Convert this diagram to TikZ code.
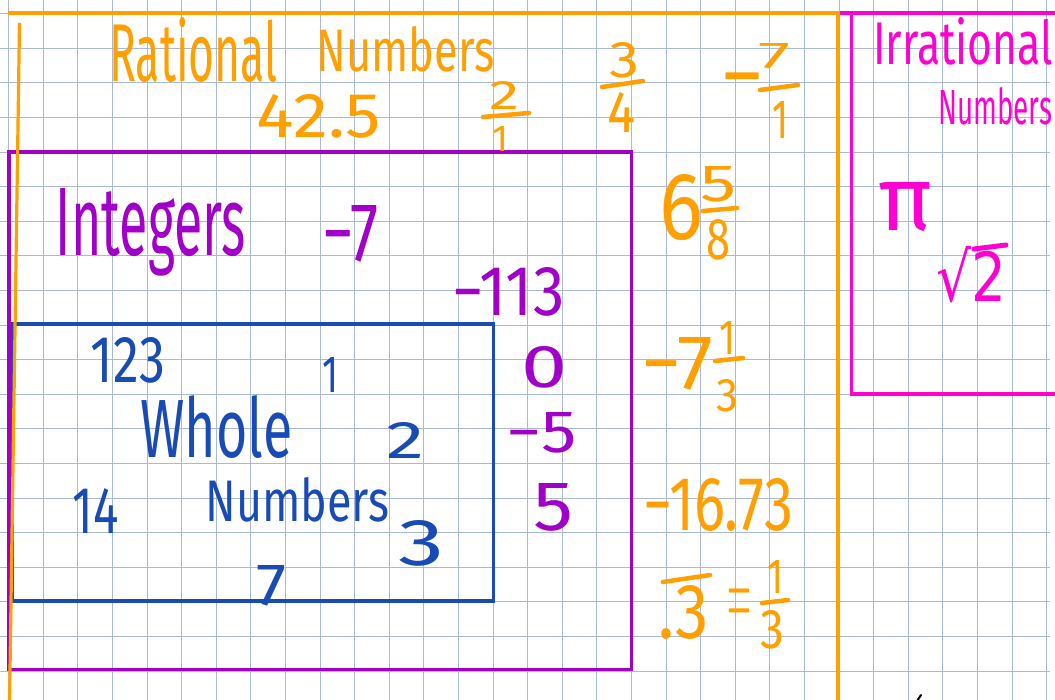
\documentclass[tikz,border=0pt]{standalone}
\usepackage{fontspec}
\setmainfont{Fira Sans}
\newfontfamily\symf{DejaVu Sans}
\usepackage{graphicx}
\definecolor{orng}{RGB}{255,160,0}
\definecolor{purp}{RGB}{160,0,200}
\definecolor{mag}{RGB}{255,0,210}
\definecolor{blu}{RGB}{25,75,180}
\definecolor{gridc}{RGB}{168,186,216}
\newcommand{\hw}[3]{\resizebox{#1pt}{#2pt}{#3}}
\begin{document}
\begin{tikzpicture}[x=1pt,y=-1pt,
  txt/.style={inner sep=0pt, outer sep=0pt, anchor=base},
  gridline/.style={gridc, line width=1.1pt},
  boxline/.style={line width=3.2pt},
  bar/.style={line width=4.5pt, line cap=round}]
\useasboundingbox (0,0) rectangle (1055,700);
\clip (0,0) rectangle (1055,700);
\fill[white] (0,0) rectangle (1055,700);
% grid paper
\foreach \i in {0,...,30} \draw[gridline] ({8.7+34.6*\i},0) -- ({8.7+34.6*\i},700);
\foreach \j in {0,...,19} \draw[gridline] (0,{13.7+34.6*\j}) -- (1050,{13.7+34.6*\j});
% boxes
\draw[blu, boxline] (12,324) rectangle (493.3,601);
\draw[purp, boxline] (9,152) rectangle (631.7,669.3);
\draw[mag, boxline, line width=3.5pt] (838,13) -- (1060,13);
\draw[mag, boxline, line width=3.5pt] (851.7,13) -- (851.7,394) -- (1060,394);
\draw[orng, boxline] (8,13) -- (838,13) -- (838,705);
\draw[orng, boxline] (19.5,23) -- (9.5,705);
% rational
\begin{scope}[orng]
\node[txt] (rat) at (193.5,82) {\hw{168}{64}{Rational}};
\node[txt] (ratn) at (405.5,72) {\hw{178}{45}{Numbers}};
\node[txt] (r425) at (319,138) {\hw{124}{43}{42.5}};
\node[txt] (f21n) at (504.5,110) {\hw{30}{28}{2}};
\node[txt] (f21d) at (500.5,152) {\hw{16}{25}{1}};
\coordinate (b1a) at (483,117); \coordinate (b1b) at (529,113);
\draw[bar] (b1a) -- (b1b);
\node[txt] (f34n) at (624.5,78) {\hw{30}{35}{3}};
\coordinate (b2a) at (602,87); \coordinate (b2b) at (643,81);
\draw[bar] (b2a) -- (b2b);
\node[txt] (f34d) at (621.5,133) {\hw{28}{40}{4}};
\node[txt, anchor=north] (m71m) at (742,73) {\resizebox{44pt}{!}{−}};
\node[txt] (m71n) at (774,69) {\hw{32}{25}{7}};
\coordinate (b3a) at (760,90); \coordinate (b3b) at (798,85);
\draw[bar] (b3a) -- (b3b);
\node[txt] (m71d) at (780,139) {\hw{16}{37}{1}};
% right column
\node[txt] (six) at (682,240) {\hw{44}{65}{6}};
\node[txt] (s5) at (718.5,202) {\hw{36}{35}{5}};
\coordinate (b4a) at (703,211); \coordinate (b4b) at (737,208);
\draw[bar] (b4a) -- (b4b);
\node[txt] (s8) at (718,260) {\hw{24}{40}{8}};
\node[txt] (m7b) at (677.5,390) {\hw{71}{52}{−7}};
\node[txt] (t1) at (727,355) {\hw{16}{33}{1}};
\coordinate (b5a) at (715,361); \coordinate (b5b) at (743,358);
\draw[bar] (b5a) -- (b5b);
\node[txt] (t3) at (727.5,412) {\hw{22}{32}{3}};
\node[txt] (m1673) at (718.5,530) {\hw{149}{52}{−16.73}};
\node[txt] (p3) at (684,638) {\hw{50}{53}{.3}};
\coordinate (b6a) at (663,582); \coordinate (b6b) at (710,575);
\draw[bar] (b6a) -- (b6b);
\node[txt] (eq) at (739,626) {\hw{24}{37.5}{$=$}};
\node[txt] (e1) at (775,593) {\hw{16}{33}{1}};
\coordinate (b7a) at (762,603); \coordinate (b7b) at (788,600);
\draw[bar] (b7a) -- (b7b);
\node[txt] (e3) at (772.5,648) {\hw{24}{38}{3}};
\end{scope}
% irrational
\begin{scope}[mag]
\node[txt] (irr) at (963,65) {\hw{180}{47}{Irrational}};
\node[txt] (irrn) at (995,125) {\hw{114}{37}{Numbers}};
\node[txt] (pi) at (905,231) {\hw{54}{48}{π}};
\node[txt] (sq2) at (971,302) {\hw{70}{55}{\symf √2}};
\coordinate (s2a) at (974,249); \coordinate (s2b) at (1006,245);
\draw[line width=5pt, line cap=round] (s2a) -- (s2b);
\end{scope}
% integers
\begin{scope}[purp]
\node[txt] (intg) at (151,256) {\hw{190}{67}{Integers}};
\node[txt] (m7) at (350.5,262) {\hw{56}{56}{−7}};
\node[txt] (m113) at (508.5,316) {\hw{112}{48}{−113}};
\node[txt] (zero) at (545,388) {\hw{46}{41}{0}};
\node[txt] (m5) at (541.5,453) {\hw{70}{40}{−5}};
\node[txt] (five) at (553.5,530) {\hw{40}{47}{5}};
\end{scope}
% whole numbers
\begin{scope}[blu]
\node[txt] (b123) at (128,383) {\hw{74}{45}{123}};
\node[txt] (b1) at (330,393) {\hw{16}{35}{1}};
\node[txt] (whole) at (216.5,457) {\hw{152}{62}{Whole}};
\node[txt] (b2) at (405,458) {\hw{38}{36}{2}};
\node[txt] (b14) at (96,533) {\hw{46}{45}{14}};
\node[txt] (wnum) at (297.5,521) {\hw{184}{44}{Numbers}};
\node[txt] (b3) at (421.5,565) {\hw{46}{45}{3}};
\node[txt] (b7) at (271.5,605) {\hw{30}{40}{7}};
\end{scope}
% small pen mark
\draw[black, line width=2pt, line cap=round] (917,701) -- (921,695);
\end{tikzpicture}
\end{document}
